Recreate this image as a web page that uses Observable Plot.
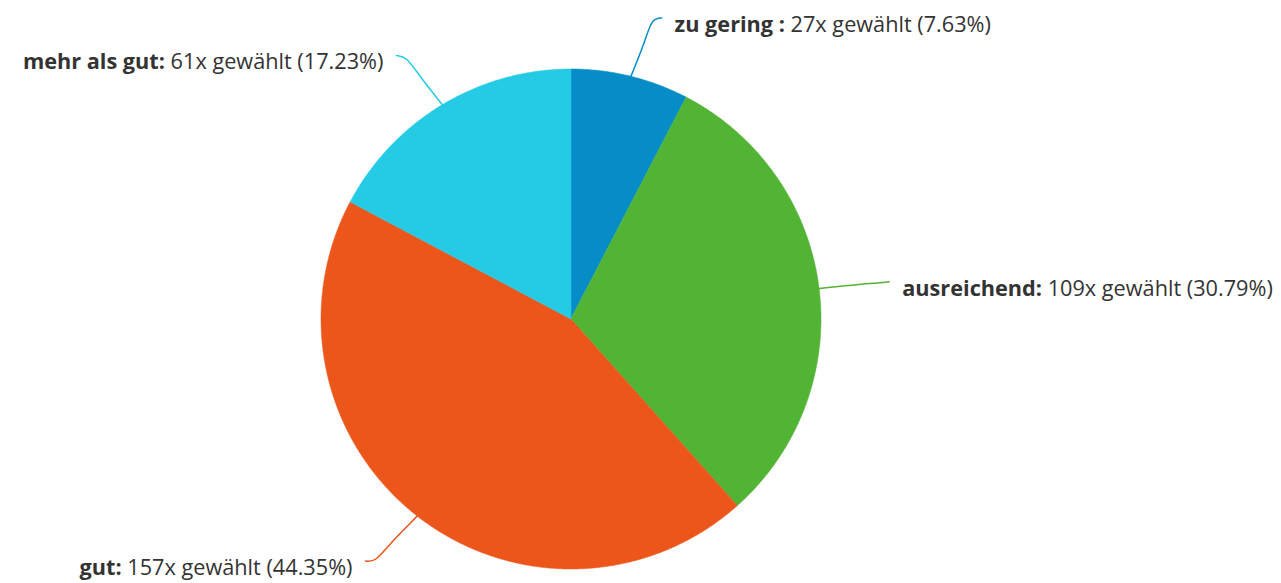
<!DOCTYPE html>
<html>
<head>
<meta charset="utf-8">
<script src="https://cdn.jsdelivr.net/npm/d3@7"></script>
<script src="https://cdn.jsdelivr.net/npm/@observablehq/plot@0.6"></script>
<style>
  html, body { margin: 0; padding: 0; background: #fff; }
  #chart svg { display: block; }
</style>
</head>
<body>
<div id="chart"></div>
<script>
// ---- data ----
const categories = ["zu gering ", "ausreichend", "gut", "mehr als gut"];
const counts = [27, 109, 157, 61];
const percents = ["7.63%", "30.79%", "44.35%", "17.23%"];
const colors = ["#068dc7", "#52b435", "#ec561b", "#25cbe5"];

// ---- layout ----
const W = 1281, H = 583;
const cx = 571, cy = 319, R = 250;
const labelDist = 63, labelGap = 20;

const pie = d3.pie().sort(null).value(d => d.count)
  (categories.map((c, i) => ({name: c, count: counts[i], pct: percents[i], color: colors[i]})));

const pt = (a, r) => ({x: cx + r * Math.sin(a), y: cy - r * Math.cos(a)});

// sector polygons: area from center to arc points
const sectorRows = [];
pie.forEach((s, i) => {
  const n = Math.max(2, Math.ceil((s.endAngle - s.startAngle) / 0.005));
  for (let k = 0; k <= n; k++) {
    const a = s.startAngle + (s.endAngle - s.startAngle) * k / n;
    const p = pt(a, R);
    sectorRows.push({key: s.data.name, color: s.data.color, x1: cx, y1: cy, x2: p.x, y2: p.y, k});
  }
});

// connectors and labels
const connRows = [];
const labelRows = [];
pie.forEach(s => {
  const mid = (s.startAngle + s.endAngle) / 2;
  const side = Math.sin(mid) >= 0 ? 1 : -1;
  const a = pt(mid, R);
  const e = pt(mid + 0.03 * side * Math.cos(mid), R + labelDist);
  const dirX = e.x - a.x, dirY = e.y - a.y;
  const m = {x: a.x + dirX * 0.6, y: a.y + dirY * 0.6};
  [a, m, {x: e.x - side * 3, y: e.y + 1}, {x: e.x + side * 7, y: e.y}].forEach((p, k) =>
    connRows.push({key: s.data.name, color: s.data.color, x: p.x, y: p.y, k}));
  labelRows.push({
    x: e.x + side * labelGap, y: e.y, side,
    text: s.data.name.trimEnd() + (s.data.name.endsWith(" ") ? " :" : ":") + "\u0001" + " " + s.data.count + "x gewählt (" + s.data.pct + ")"
  });
});

const textOpts = {x: "x", y: "y", text: "text", fontSize: 21.7, fill: "#333333", dy: 7};

const chart = Plot.plot({
  width: W, height: H,
  margin: 0,
  x: {domain: [0, W], range: [0, W], axis: null},
  y: {domain: [0, H], range: [0, H], axis: null},
  style: {fontFamily: "'Open Sans', sans-serif", background: "#fff"},
  marks: [
    Plot.area(sectorRows, {x1: "x1", y1: "y1", x2: "x2", y2: "y2", z: "key", fill: d => d.color, stroke: d => d.color, strokeWidth: 0.5, curve: "linear"}),
    Plot.line(connRows, {x: "x", y: "y", z: "key", stroke: d => d.color, strokeWidth: 1.5, curve: "basis"}),
    Plot.text(labelRows.filter(d => d.side > 0), {...textOpts, textAnchor: "start"}),
    Plot.text(labelRows.filter(d => d.side < 0), {...textOpts, textAnchor: "end"})
  ]
});
document.getElementById("chart").appendChild(chart);

chart.querySelectorAll("text").forEach(t => {
  const s = t.textContent;
  if (!s.includes("\u0001")) return;
  const [b, r] = s.split("\u0001");
  t.textContent = "";
  const ns = "http://www.w3.org/2000/svg";
  const tb = document.createElementNS(ns, "tspan");
  tb.setAttribute("font-weight", "bold");
  tb.textContent = b;
  const tr = document.createElementNS(ns, "tspan");
  tr.textContent = r;
  t.appendChild(tb); t.appendChild(tr);
});
</script>
</body>
</html>
